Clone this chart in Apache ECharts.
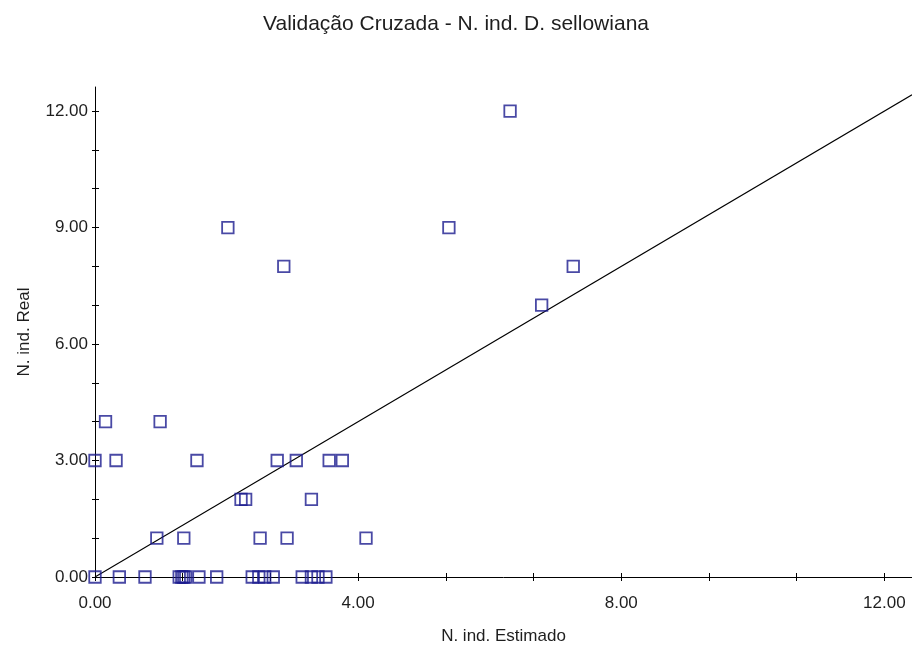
<!DOCTYPE html>
<html>
<head>
<meta charset="utf-8">
<script src="https://cdn.jsdelivr.net/npm/echarts@6/dist/echarts.min.js"></script>
<style>
  html, body { margin: 0; padding: 0; background: #fff; }
  #chart { width: 912px; height: 650px; }
</style>
</head>
<body>
<div id="chart"></div>
<script>
// Cross-validation: estimated vs. observed number of individuals
const estimated = [6.31, 5.38, 2.02, 2.87, 7.27, 6.79, 0.16, 0.99,
  0.00, 0.32, 1.55, 2.77, 3.06, 3.56, 3.76,
  2.22, 2.29, 3.29,
  0.94, 1.35, 2.51, 2.92, 4.12,
  0.00, 0.37, 0.76, 1.28, 1.32, 1.35, 1.38, 1.58, 1.85,
  2.39, 2.49, 2.58, 2.71, 3.15, 3.29, 3.39, 3.51];
const observed = [12, 9, 9, 8, 8, 7, 4, 4,
  3, 3, 3, 3, 3, 3, 3,
  2, 2, 2,
  1, 1, 1, 1, 1,
  0, 0, 0, 0, 0, 0, 0, 0, 0,
  0, 0, 0, 0, 0, 0, 0, 0];

// 1:1 reference line endpoints
const refLineX = [0, 12.42];
const refLineY = [0, 12.42];

// Axis ticks and labels
const xTicks = [0, 1.3333, 2.6667, 4, 5.3333, 6.6667, 8, 9.3333, 10.6667, 12];
const xLabels = [0, 4, 8, 12];
const yTicks = [0, 1, 2, 3, 4, 5, 6, 7, 8, 9, 10, 11, 12];
const yLabels = [0, 3, 6, 9, 12];

const FONT = 'Liberation Sans';
const TXT = '#1e1e1e';

const chart = echarts.init(document.getElementById('chart'), null, { renderer: 'canvas' });

// Each axis is drawn twice (outer + inner ticks) so the tick marks cross the line
function xAxisDef(main, inside) {
  return {
    type: 'value', min: 0, max: 12.42, position: 'bottom',
    name: main ? 'N. ind. Estimado' : '',
    nameLocation: 'middle', nameGap: 51,
    nameTextStyle: { fontFamily: FONT, fontSize: 17, color: TXT },
    axisLine: { show: main, onZero: false, lineStyle: { color: '#000', width: 1 } },
    axisTick: { show: true, inside: inside, length: 4, customValues: xTicks, lineStyle: { color: '#000', width: 1 } },
    axisLabel: {
      show: main, customValues: xLabels, margin: 18,
      fontFamily: FONT, fontSize: 17, color: TXT,
      formatter: v => v.toFixed(2)
    },
    splitLine: { show: false }
  };
}

function yAxisDef(main, inside) {
  return {
    type: 'value', min: 0, max: 12.62, position: 'left',
    name: main ? 'N. ind. Real' : '',
    nameLocation: 'middle', nameGap: 62,
    nameTextStyle: { fontFamily: FONT, fontSize: 17, color: TXT },
    axisLine: { show: main, onZero: false, lineStyle: { color: '#000', width: 1 } },
    axisTick: { show: true, inside: inside, length: inside ? 4 : 3, customValues: yTicks, lineStyle: { color: '#000', width: 1 } },
    axisLabel: {
      show: main, customValues: yLabels, margin: 7,
      fontFamily: FONT, fontSize: 17, color: TXT,
      formatter: v => v.toFixed(2)
    },
    splitLine: { show: false }
  };
}

const points = estimated.map((x, i) => [x, observed[i]]);
const refLine = refLineX.map((x, i) => [x, refLineY[i]]);

chart.setOption({
  animation: false,
  backgroundColor: '#fff',
  title: {
    text: 'Validação Cruzada - N. ind. D. sellowiana',
    left: 'center', top: 9,
    textStyle: { fontFamily: FONT, fontSize: 21, fontWeight: 'normal', color: TXT }
  },
  grid: { left: 95, right: 0, top: 87, bottom: 72, containLabel: false },
  xAxis: [xAxisDef(true, false), xAxisDef(false, true)],
  yAxis: [yAxisDef(true, false), yAxisDef(false, true)],
  series: [
    {
      type: 'line', data: refLine, xAxisIndex: 0, yAxisIndex: 0,
      symbol: 'none', silent: true, z: 1,
      lineStyle: { color: '#000', width: 1.1 }
    },
    {
      type: 'scatter', data: points, xAxisIndex: 0, yAxisIndex: 0,
      symbol: 'rect', symbolSize: 11.5, z: 3,
      itemStyle: { color: 'rgba(0,0,0,0)', borderColor: '#1c1c8e', borderWidth: 1.8 }
    }
  ]
});
</script>
</body>
</html>
